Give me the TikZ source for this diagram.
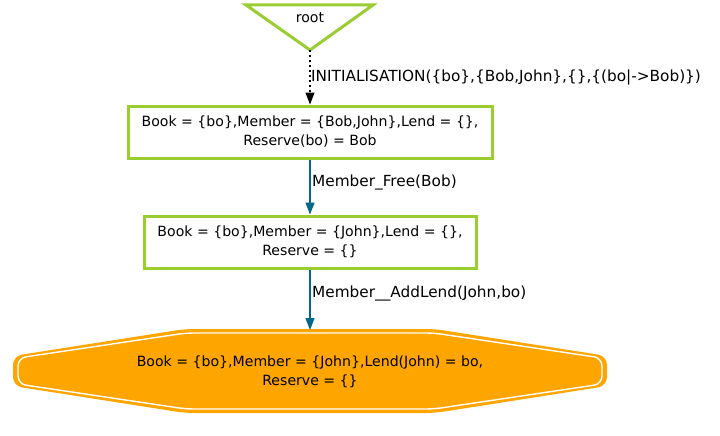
\documentclass[tikz,border=0pt]{standalone}
\usepackage{fontspec}
\setmainfont{DejaVu Sans}
\usetikzlibrary{arrows.meta,shapes.geometric}
\definecolor{ggreen}{HTML}{9ACD32}
\definecolor{gblue}{HTML}{00688B}
\definecolor{gorange}{HTML}{FFA500}
\tikzset{
  statebox/.style={draw=ggreen, line width=3pt, fill=white, align=center, font=\fontsize{14.1}{19}\selectfont, inner sep=0pt},
  edgelabel/.style={anchor=west, font=\fontsize{15.3}{17}\selectfont, inner sep=0pt},
  blueedge/.style={draw=gblue, line width=1.4pt, -{Triangle[length=12pt,width=9pt]}},
  initedge/.style={draw=black, line width=1.2pt, dash pattern=on 2pt off 3pt, -{Triangle[length=12pt,width=9pt]}}
}
\begin{document}
\begin{tikzpicture}[x=1pt,y=-1pt]
\useasboundingbox (0,0) rectangle (720,436);
% root triangle
\draw[ggreen, line width=3pt, line join=miter] (246,5) -- (373,5) -- (310,50) -- cycle;
\node[font=\fontsize{14.1}{16}\selectfont, inner sep=0pt] (root) at (310,18) {root};
\coordinate (rootapex) at (310,50);
% boxes
\node[statebox, minimum width=364pt, minimum height=52pt] (s1) at (310,132) {Book = \{bo\},Member = \{Bob,John\},Lend = \{\},\\Reserve(bo) = Bob};
\node[statebox, minimum width=332pt, minimum height=52pt] (s2) at (310,242) {Book = \{bo\},Member = \{John\},Lend = \{\},\\Reserve = \{\}};
% final octagon
\fill[gorange, rounded corners=9pt] (13,356) -- (13,386) -- (185,413) -- (435,413) -- (607,386) -- (607,356) -- (435,329) -- (185,329) -- cycle;
\draw[white, line width=1.4pt, rounded corners=8pt] (18,358) -- (18,384) -- (186,409) -- (434,409) -- (602,384) -- (602,358) -- (434,333) -- (186,333) -- cycle;
\node[align=center, font=\fontsize{14.1}{19}\selectfont, inner sep=0pt] (s3) at (310,372) {Book = \{bo\},Member = \{John\},Lend(John) = bo,\\Reserve = \{\}};
\coordinate (s3top) at (310,330);
% edges
\draw[initedge] (rootapex) -- (s1.north);
\draw[blueedge] (s1.south) -- (s2.north);
\draw[blueedge] (s2.south) -- (s3top);
% labels
\node[edgelabel] (l1) at (311,77) {INITIALISATION(\{bo\},\{Bob,John\},\{\},\{(bo|->Bob)\})};
\node[edgelabel] (l2) at (312,182) {Member\_Free(Bob)};
\node[edgelabel] (l3) at (312,293) {Member\_\_AddLend(John,bo)};
\end{tikzpicture}
\end{document}
